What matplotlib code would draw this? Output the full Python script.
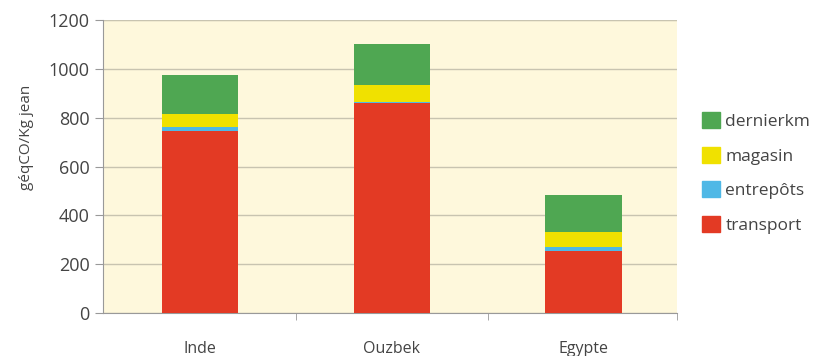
import numpy as np
import matplotlib
matplotlib.use("Agg")
import matplotlib.pyplot as plt
from matplotlib.patches import Patch

plt.rcParams['font.family'] = ['Open Sans', 'DejaVu Sans']

# data
pays = ["Inde", "Ouzbek", "Egypte"]
transport = [745, 860, 255]
entrepots = [18, 5, 15]
magasin = [52, 70, 60]
dernierkm = [160, 165, 155]

series = [("transport", transport, "#e33a24"),
          ("entrepôts", entrepots, "#4fb8e6"),
          ("magasin", magasin, "#f0e100"),
          ("dernierkm", dernierkm, "#4fa752")]

fig = plt.figure(figsize=(8.23, 3.56), dpi=100)
ax = fig.add_axes([103/823, 1-313/356, (677-103)/823, (313-20)/356])
ax.set_facecolor("#fef8dc")

x = np.arange(len(pays))
bottom = np.zeros(len(pays))
for name, vals, col in series:
    ax.bar(x, vals, 0.4, bottom=bottom, color=col, zorder=3)
    bottom += np.array(vals)

ax.set_xlim(-0.505, 2.485)
ax.set_ylim(0, 1200)
ax.set_yticks(range(0, 1201, 200))
ax.yaxis.grid(True, color="#c8c4b0", lw=1, zorder=0)
ax.set_xticks(x)
ax.set_xticklabels(pays, fontsize=11.5, color="#444444")
ax.tick_params(axis="x", length=0, pad=20)
ax.set_xticks([0.5, 1.5, 2.485], minor=True)
ax.tick_params(axis="x", which="minor", length=5, color="#999999")
ax.tick_params(axis="y", labelsize=13, labelcolor="#444444", color="#999999", length=6)
for s in ["top", "right"]:
    ax.spines[s].set_visible(False)
for s in ["left", "bottom"]:
    ax.spines[s].set_color("#999999")
ax.axhline(1200, color="#a8a8a0", lw=1.5, zorder=1)

fig.text(26/823, 1-137/356, "géqCO/Kg jean", rotation=90, fontsize=11,
         color="#444444", ha="center", va="center")

handles = [Patch(color=c, label=n) for n, v, c in series[::-1]]
fig.legend(handles=handles, loc="center left", bbox_to_anchor=(702/823, 1-173/356),
           frameon=False, borderpad=0, borderaxespad=0, fontsize=12.5,
           labelspacing=0.95, handlelength=1.05, handleheight=1.05,
           handletextpad=0.3, labelcolor="#444444")

fig.savefig("out.png", dpi=100)
